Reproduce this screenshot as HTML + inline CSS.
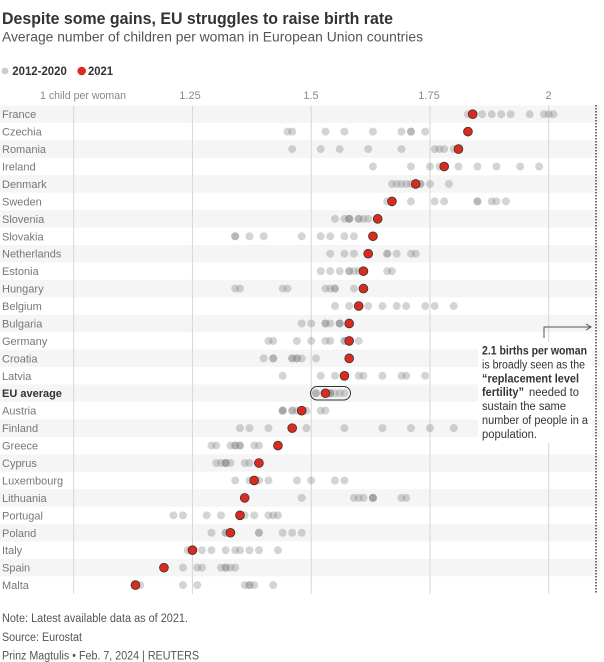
<!DOCTYPE html>
<html><head><meta charset="utf-8"><style>
html,body{margin:0;padding:0;background:#fff;}
svg{display:block;font-family:"Liberation Sans",Arial,sans-serif;}
.st{fill:#f5f5f5}
.gl{stroke:#d6d6d6;stroke-width:1}
.g circle{fill:#888;fill-opacity:.36}
.rd{fill:#dd2a1f;stroke:#333;stroke-width:.8}
.lb{font-size:11px;fill:#777}
.ax{font-size:11px;fill:#888}
.an{font-size:11.5px;fill:#333}
.ft{font-size:11.5px;fill:#555}
</style></head><body>
<svg width="604" height="662" viewBox="0 0 604 662" xmlns="http://www.w3.org/2000/svg">
<rect width="604" height="662" fill="#fff"/>
<text x="2" y="24" font-size="16.5" font-weight="bold" fill="#333" textLength="391" lengthAdjust="spacingAndGlyphs">Despite some gains, EU struggles to raise birth rate</text>
<text x="2" y="41.5" font-size="13.5" fill="#555" textLength="421" lengthAdjust="spacingAndGlyphs">Average number of children per woman in European Union countries</text>
<circle cx="5" cy="71" r="3.4" fill="#ccc"/>
<text x="12.3" y="75.2" font-size="12" font-weight="bold" fill="#333" textLength="54.5" lengthAdjust="spacingAndGlyphs">2012-2020</text>
<circle cx="81.7" cy="71" r="4.3" fill="#dd2a1f"/>
<text x="88" y="75.2" font-size="12" font-weight="bold" fill="#333" textLength="25" lengthAdjust="spacingAndGlyphs">2021</text>
<text class="ax" x="40" y="99" textLength="86" lengthAdjust="spacingAndGlyphs">1 child per woman</text>
<text class="ax" x="190" y="99" text-anchor="middle">1.25</text>
<text class="ax" x="311" y="99" text-anchor="middle">1.5</text>
<text class="ax" x="429" y="99" text-anchor="middle">1.75</text>
<text class="ax" x="548.5" y="99" text-anchor="middle">2</text>
<!-- stripes -->
<rect class="st" x="0" y="105.5" width="600" height="17.44"/>
<rect class="st" x="0" y="140.4" width="600" height="17.44"/>
<rect class="st" x="0" y="175.2" width="600" height="17.44"/>
<rect class="st" x="0" y="210.1" width="600" height="17.44"/>
<rect class="st" x="0" y="245.0" width="600" height="17.44"/>
<rect class="st" x="0" y="279.9" width="600" height="17.44"/>
<rect class="st" x="0" y="314.8" width="600" height="17.44"/>
<rect class="st" x="0" y="349.6" width="600" height="17.44"/>
<rect class="st" x="0" y="384.5" width="600" height="17.44"/>
<rect class="st" x="0" y="419.4" width="600" height="17.44"/>
<rect class="st" x="0" y="454.3" width="600" height="17.44"/>
<rect class="st" x="0" y="489.2" width="600" height="17.44"/>
<rect class="st" x="0" y="524.0" width="600" height="17.44"/>
<rect class="st" x="0" y="558.9" width="600" height="17.44"/>
<!-- gridlines -->
<line class="gl" x1="73.7" y1="105.5" x2="73.7" y2="593.8"/>
<line class="gl" x1="192.45" y1="105.5" x2="192.45" y2="593.8"/>
<line class="gl" x1="311.2" y1="105.5" x2="311.2" y2="593.8"/>
<line class="gl" x1="429.95" y1="105.5" x2="429.95" y2="593.8"/>
<line class="gl" x1="548.7" y1="105.5" x2="548.7" y2="593.8"/>
<!-- annotation background -->
<rect x="478" y="342" width="114" height="101" fill="#fff"/>
<line x1="596" y1="105" x2="596" y2="593" stroke="#444" stroke-width="1.5" stroke-dasharray="1.5,1.5"/>
<!-- rows -->
<g class="g" transform="translate(0,114.2)"><circle cx="553.45" r="4"/><circle cx="543.95" r="4"/><circle cx="548.7" r="4"/><circle cx="529.7" r="4"/><circle cx="510.7" r="4"/><circle cx="501.2" r="4"/><circle cx="491.7" r="4"/><circle cx="482.2" r="4"/><circle cx="467.95" r="4"/></g>
<circle class="rd" cx="472.7" cy="114.2" r="4.4"/>
<g class="g" transform="translate(0,131.64)"><circle cx="287.45" r="4"/><circle cx="292.2" r="4"/><circle cx="325.45" r="4"/><circle cx="344.45" r="4"/><circle cx="372.95" r="4"/><circle cx="401.45" r="4"/><circle cx="410.95" r="4"/><circle cx="410.95" r="4"/><circle cx="425.2" r="4"/></g>
<circle class="rd" cx="467.95" cy="131.64" r="4.4"/>
<g class="g" transform="translate(0,149.08)"><circle cx="292.2" r="4"/><circle cx="320.7" r="4"/><circle cx="339.7" r="4"/><circle cx="368.2" r="4"/><circle cx="401.45" r="4"/><circle cx="434.7" r="4"/><circle cx="439.45" r="4"/><circle cx="444.2" r="4"/><circle cx="453.7" r="4"/></g>
<circle class="rd" cx="458.45" cy="149.08" r="4.4"/>
<g class="g" transform="translate(0,166.52)"><circle cx="372.95" r="4"/><circle cx="410.95" r="4"/><circle cx="429.95" r="4"/><circle cx="439.45" r="4"/><circle cx="458.45" r="4"/><circle cx="477.45" r="4"/><circle cx="496.45" r="4"/><circle cx="520.2" r="4"/><circle cx="539.2" r="4"/></g>
<circle class="rd" cx="444.2" cy="166.52" r="4.4"/>
<g class="g" transform="translate(0,183.96)"><circle cx="391.95" r="4"/><circle cx="396.7" r="4"/><circle cx="401.45" r="4"/><circle cx="406.2" r="4"/><circle cx="410.95" r="4"/><circle cx="420.45" r="4"/><circle cx="420.45" r="4"/><circle cx="429.95" r="4"/><circle cx="448.95" r="4"/></g>
<circle class="rd" cx="415.7" cy="183.96" r="4.4"/>
<g class="g" transform="translate(0,201.4)"><circle cx="387.2" r="4"/><circle cx="410.95" r="4"/><circle cx="434.7" r="4"/><circle cx="444.2" r="4"/><circle cx="477.45" r="4"/><circle cx="477.45" r="4"/><circle cx="491.7" r="4"/><circle cx="496.45" r="4"/><circle cx="505.95" r="4"/></g>
<circle class="rd" cx="391.95" cy="201.4" r="4.4"/>
<g class="g" transform="translate(0,218.84)"><circle cx="334.95" r="4"/><circle cx="344.45" r="4"/><circle cx="349.2" r="4"/><circle cx="349.2" r="4"/><circle cx="349.2" r="4"/><circle cx="358.7" r="4"/><circle cx="358.7" r="4"/><circle cx="363.45" r="4"/><circle cx="368.2" r="4"/></g>
<circle class="rd" cx="377.7" cy="218.84" r="4.4"/>
<g class="g" transform="translate(0,236.28)"><circle cx="235.2" r="4"/><circle cx="235.2" r="4"/><circle cx="249.45" r="4"/><circle cx="263.7" r="4"/><circle cx="301.7" r="4"/><circle cx="320.7" r="4"/><circle cx="330.2" r="4"/><circle cx="344.45" r="4"/><circle cx="353.95" r="4"/></g>
<circle class="rd" cx="372.95" cy="236.28" r="4.4"/>
<g class="g" transform="translate(0,253.72)"><circle cx="330.2" r="4"/><circle cx="344.45" r="4"/><circle cx="353.95" r="4"/><circle cx="368.2" r="4"/><circle cx="387.2" r="4"/><circle cx="387.2" r="4"/><circle cx="396.7" r="4"/><circle cx="410.95" r="4"/><circle cx="415.7" r="4"/></g>
<circle class="rd" cx="368.2" cy="253.72" r="4.4"/>
<g class="g" transform="translate(0,271.16)"><circle cx="320.7" r="4"/><circle cx="330.2" r="4"/><circle cx="339.7" r="4"/><circle cx="349.2" r="4"/><circle cx="349.2" r="4"/><circle cx="353.95" r="4"/><circle cx="358.7" r="4"/><circle cx="387.2" r="4"/><circle cx="391.95" r="4"/></g>
<circle class="rd" cx="363.45" cy="271.16" r="4.4"/>
<g class="g" transform="translate(0,288.6)"><circle cx="235.2" r="4"/><circle cx="239.95" r="4"/><circle cx="282.7" r="4"/><circle cx="287.45" r="4"/><circle cx="325.45" r="4"/><circle cx="330.2" r="4"/><circle cx="334.95" r="4"/><circle cx="334.95" r="4"/><circle cx="353.95" r="4"/></g>
<circle class="rd" cx="363.45" cy="288.6" r="4.4"/>
<g class="g" transform="translate(0,306.04)"><circle cx="334.95" r="4"/><circle cx="349.2" r="4"/><circle cx="368.2" r="4"/><circle cx="382.45" r="4"/><circle cx="396.7" r="4"/><circle cx="406.2" r="4"/><circle cx="425.2" r="4"/><circle cx="434.7" r="4"/><circle cx="453.7" r="4"/></g>
<circle class="rd" cx="358.7" cy="306.04" r="4.4"/>
<g class="g" transform="translate(0,323.48)"><circle cx="301.7" r="4"/><circle cx="311.2" r="4"/><circle cx="325.45" r="4"/><circle cx="325.45" r="4"/><circle cx="330.2" r="4"/><circle cx="339.7" r="4"/><circle cx="339.7" r="4"/><circle cx="339.7" r="4"/><circle cx="349.2" r="4"/></g>
<circle class="rd" cx="349.2" cy="323.48" r="4.4"/>
<g class="g" transform="translate(0,340.92)"><circle cx="268.45" r="4"/><circle cx="273.2" r="4"/><circle cx="296.95" r="4"/><circle cx="311.2" r="4"/><circle cx="325.45" r="4"/><circle cx="330.2" r="4"/><circle cx="344.45" r="4"/><circle cx="344.45" r="4"/><circle cx="358.7" r="4"/></g>
<circle class="rd" cx="349.2" cy="340.92" r="4.4"/>
<g class="g" transform="translate(0,358.36)"><circle cx="263.7" r="4"/><circle cx="273.2" r="4"/><circle cx="273.2" r="4"/><circle cx="292.2" r="4"/><circle cx="292.2" r="4"/><circle cx="296.95" r="4"/><circle cx="296.95" r="4"/><circle cx="301.7" r="4"/><circle cx="315.95" r="4"/></g>
<circle class="rd" cx="349.2" cy="358.36" r="4.4"/>
<g class="g" transform="translate(0,375.8)"><circle cx="282.7" r="4"/><circle cx="320.7" r="4"/><circle cx="334.95" r="4"/><circle cx="358.7" r="4"/><circle cx="363.45" r="4"/><circle cx="382.45" r="4"/><circle cx="401.45" r="4"/><circle cx="406.2" r="4"/><circle cx="425.2" r="4"/></g>
<circle class="rd" cx="344.45" cy="375.8" r="4.4"/>
<g class="g" transform="translate(0,393.24)"><circle cx="315.95" r="4"/><circle cx="315.95" r="4"/><circle cx="325.45" r="4"/><circle cx="330.2" r="4"/><circle cx="330.2" r="4"/><circle cx="330.2" r="4"/><circle cx="334.95" r="4"/><circle cx="339.7" r="4"/><circle cx="344.45" r="4"/></g>
<circle class="rd" cx="325.45" cy="393.24" r="4.4"/>
<rect x="310.5" y="386.5" width="40" height="13.5" rx="6.75" fill="none" stroke="#333" stroke-width="1"/>
<g class="g" transform="translate(0,410.68)"><circle cx="282.7" r="4"/><circle cx="282.7" r="4"/><circle cx="282.7" r="4"/><circle cx="292.2" r="4"/><circle cx="292.2" r="4"/><circle cx="296.95" r="4"/><circle cx="306.45" r="4"/><circle cx="320.7" r="4"/><circle cx="325.45" r="4"/></g>
<circle class="rd" cx="301.7" cy="410.68" r="4.4"/>
<g class="g" transform="translate(0,428.12)"><circle cx="239.95" r="4"/><circle cx="249.45" r="4"/><circle cx="268.45" r="4"/><circle cx="306.45" r="4"/><circle cx="344.45" r="4"/><circle cx="382.45" r="4"/><circle cx="410.95" r="4"/><circle cx="429.95" r="4"/><circle cx="453.7" r="4"/></g>
<circle class="rd" cx="292.2" cy="428.12" r="4.4"/>
<g class="g" transform="translate(0,445.56)"><circle cx="211.45" r="4"/><circle cx="216.2" r="4"/><circle cx="230.45" r="4"/><circle cx="235.2" r="4"/><circle cx="235.2" r="4"/><circle cx="239.95" r="4"/><circle cx="239.95" r="4"/><circle cx="254.2" r="4"/><circle cx="258.95" r="4"/></g>
<circle class="rd" cx="277.95" cy="445.56" r="4.4"/>
<g class="g" transform="translate(0,463)"><circle cx="216.2" r="4"/><circle cx="220.95" r="4"/><circle cx="225.7" r="4"/><circle cx="225.7" r="4"/><circle cx="225.7" r="4"/><circle cx="230.45" r="4"/><circle cx="244.7" r="4"/><circle cx="249.45" r="4"/><circle cx="258.95" r="4"/></g>
<circle class="rd" cx="258.95" cy="463" r="4.4"/>
<g class="g" transform="translate(0,480.44)"><circle cx="235.2" r="4"/><circle cx="249.45" r="4"/><circle cx="254.2" r="4"/><circle cx="258.95" r="4"/><circle cx="268.45" r="4"/><circle cx="296.95" r="4"/><circle cx="311.2" r="4"/><circle cx="334.95" r="4"/><circle cx="344.45" r="4"/></g>
<circle class="rd" cx="254.2" cy="480.44" r="4.4"/>
<g class="g" transform="translate(0,497.88)"><circle cx="301.7" r="4"/><circle cx="353.95" r="4"/><circle cx="358.7" r="4"/><circle cx="363.45" r="4"/><circle cx="372.95" r="4"/><circle cx="372.95" r="4"/><circle cx="372.95" r="4"/><circle cx="401.45" r="4"/><circle cx="406.2" r="4"/></g>
<circle class="rd" cx="244.7" cy="497.88" r="4.4"/>
<g class="g" transform="translate(0,515.32)"><circle cx="173.45" r="4"/><circle cx="182.95" r="4"/><circle cx="206.7" r="4"/><circle cx="220.95" r="4"/><circle cx="244.7" r="4"/><circle cx="254.2" r="4"/><circle cx="268.45" r="4"/><circle cx="273.2" r="4"/><circle cx="277.95" r="4"/></g>
<circle class="rd" cx="239.95" cy="515.32" r="4.4"/>
<g class="g" transform="translate(0,532.76)"><circle cx="211.45" r="4"/><circle cx="225.7" r="4"/><circle cx="225.7" r="4"/><circle cx="230.45" r="4"/><circle cx="258.95" r="4"/><circle cx="258.95" r="4"/><circle cx="282.7" r="4"/><circle cx="292.2" r="4"/><circle cx="301.7" r="4"/></g>
<circle class="rd" cx="230.45" cy="532.76" r="4.4"/>
<g class="g" transform="translate(0,550.2)"><circle cx="187.7" r="4"/><circle cx="201.95" r="4"/><circle cx="211.45" r="4"/><circle cx="225.7" r="4"/><circle cx="235.2" r="4"/><circle cx="239.95" r="4"/><circle cx="249.45" r="4"/><circle cx="258.95" r="4"/><circle cx="277.95" r="4"/></g>
<circle class="rd" cx="192.45" cy="550.2" r="4.4"/>
<g class="g" transform="translate(0,567.64)"><circle cx="163.95" r="4"/><circle cx="182.95" r="4"/><circle cx="197.2" r="4"/><circle cx="201.95" r="4"/><circle cx="220.95" r="4"/><circle cx="225.7" r="4"/><circle cx="225.7" r="4"/><circle cx="230.45" r="4"/><circle cx="235.2" r="4"/></g>
<circle class="rd" cx="163.95" cy="567.64" r="4.4"/>
<g class="g" transform="translate(0,585.08)"><circle cx="135.45" r="4"/><circle cx="140.2" r="4"/><circle cx="182.95" r="4"/><circle cx="197.2" r="4"/><circle cx="244.7" r="4"/><circle cx="249.45" r="4"/><circle cx="249.45" r="4"/><circle cx="254.2" r="4"/><circle cx="273.2" r="4"/></g>
<circle class="rd" cx="135.45" cy="585.08" r="4.4"/>
<!-- labels -->
<text class="lb" x="2" y="118.2">France</text>
<text class="lb" x="2" y="135.6">Czechia</text>
<text class="lb" x="2" y="153.1">Romania</text>
<text class="lb" x="2" y="170.5">Ireland</text>
<text class="lb" x="2" y="188">Denmark</text>
<text class="lb" x="2" y="205.4">Sweden</text>
<text class="lb" x="2" y="222.8">Slovenia</text>
<text class="lb" x="2" y="240.3">Slovakia</text>
<text class="lb" x="2" y="257.7">Netherlands</text>
<text class="lb" x="2" y="275.2">Estonia</text>
<text class="lb" x="2" y="292.6">Hungary</text>
<text class="lb" x="2" y="310">Belgium</text>
<text class="lb" x="2" y="327.5">Bulgaria</text>
<text class="lb" x="2" y="344.9">Germany</text>
<text class="lb" x="2" y="362.4">Croatia</text>
<text class="lb" x="2" y="379.8">Latvia</text>
<text x="2" y="397.2" font-size="11" font-weight="bold" fill="#333">EU average</text>
<text class="lb" x="2" y="414.7">Austria</text>
<text class="lb" x="2" y="432.1">Finland</text>
<text class="lb" x="2" y="449.6">Greece</text>
<text class="lb" x="2" y="467">Cyprus</text>
<text class="lb" x="2" y="484.4">Luxembourg</text>
<text class="lb" x="2" y="501.9">Lithuania</text>
<text class="lb" x="2" y="519.3">Portugal</text>
<text class="lb" x="2" y="536.8">Poland</text>
<text class="lb" x="2" y="554.2">Italy</text>
<text class="lb" x="2" y="571.6">Spain</text>
<text class="lb" x="2" y="589.1">Malta</text>
<!-- annotation -->
<polyline points="544,338 544,327 590,327" fill="none" stroke="#555" stroke-width="1"/>
<polyline points="586,324 591,327 586,330" fill="none" stroke="#555" stroke-width="1"/>
<text class="an" x="482" y="354.5" font-weight="bold" textLength="105" lengthAdjust="spacingAndGlyphs">2.1 births per woman</text>
<text class="an" x="482" y="368.5" textLength="103" lengthAdjust="spacingAndGlyphs">is broadly seen as the</text>
<text class="an" x="482" y="382.3" font-weight="bold" textLength="97" lengthAdjust="spacingAndGlyphs">“replacement level</text>
<text class="an" x="482" y="396.2" font-weight="bold" textLength="42" lengthAdjust="spacingAndGlyphs">fertility”</text>
<text class="an" x="529" y="396.2" textLength="50" lengthAdjust="spacingAndGlyphs">needed to</text>
<text class="an" x="482" y="410" textLength="84" lengthAdjust="spacingAndGlyphs">sustain the same</text>
<text class="an" x="482" y="424" textLength="106" lengthAdjust="spacingAndGlyphs">number of people in a</text>
<text class="an" x="482" y="437.8" textLength="55" lengthAdjust="spacingAndGlyphs">population.</text>
<!-- footer -->
<text class="ft" x="2" y="622" textLength="186" lengthAdjust="spacingAndGlyphs">Note: Latest available data as of 2021.</text>
<text class="ft" x="2" y="641" textLength="80" lengthAdjust="spacingAndGlyphs">Source: Eurostat</text>
<text class="ft" x="2" y="659.5" textLength="197" lengthAdjust="spacingAndGlyphs">Prinz Magtulis • Feb. 7, 2024 | REUTERS</text>
</svg>
</body></html>
